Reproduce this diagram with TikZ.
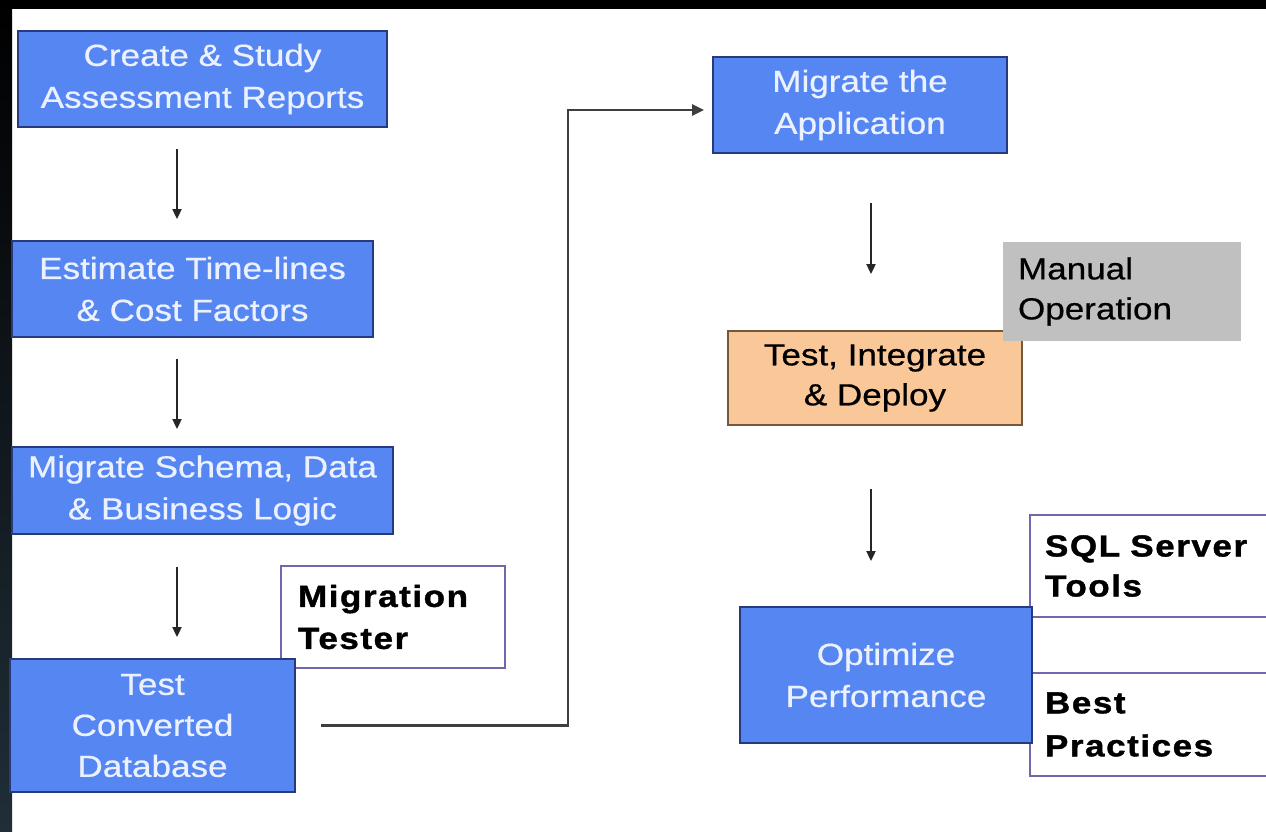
\documentclass[tikz,border=0pt]{standalone}
\usepackage{fontspec}
\setmainfont{Liberation Sans}[FakeStretch=1.15,FakeBold=0.6]
\newfontfamily\labfont{Liberation Sans Bold}[FakeStretch=1.15,LetterSpace=5,FakeBold=1.2]
\usetikzlibrary{arrows.meta,positioning}
\definecolor{boxblue}{RGB}{86,134,242}
\definecolor{boxedge}{RGB}{40,58,125}
\definecolor{boxtext}{RGB}{236,241,255}
\definecolor{peach}{RGB}{250,200,152}
\definecolor{peachedge}{RGB}{115,88,60}
\definecolor{graybox}{RGB}{192,192,192}
\definecolor{lilac}{RGB}{112,104,172}
\definecolor{connector}{RGB}{62,62,62}
\definecolor{bandbot}{RGB}{32,46,56}
\tikzset{
  bluebox/.style={draw=boxedge, line width=1.8pt, fill=boxblue, text=boxtext,
    inner sep=0pt, align=center, font=\fontsize{30.5}{42}\selectfont},
  peachbox/.style={draw=peachedge, line width=1.8pt, fill=peach, text=black,
    inner sep=0pt, align=center, font=\fontsize{30.5}{40}\selectfont},
  greybox/.style={fill=graybox, text=black, inner sep=0pt, align=left,
    font=\fontsize{30.5}{40}\selectfont},
  whitebox/.style={draw=lilac, line width=1.8pt, fill=white, text=black,
    inner sep=0pt, align=left, font=\labfont\fontsize{30.5}{42}\selectfont},
  arr/.style={draw=black!85, line width=1.8pt, -{Triangle[length=10pt,width=9pt]}},
  conn/.style={draw=connector, line width=2.6pt, -{Triangle[length=12pt,width=11pt]}}
}
\begin{document}
\begin{tikzpicture}[x=1pt,y=-1pt]
\useasboundingbox (0,0) rectangle (1266,831);
\fill[white] (0,0) rectangle (1266,831);
\shade[top color=black, bottom color=bandbot] (0,0) rectangle (12,831);
\fill[black] (0,0) rectangle (1266,9);

% left column
\node[bluebox, minimum width=369pt, minimum height=96pt] (b1) at (202.5,79) {Create \& Study\\Assessment Reports};
\node[bluebox, minimum width=361pt, minimum height=96pt] (b2) at (192.5,289) {Estimate Time-lines\\\& Cost Factors};
\node[bluebox, minimum width=381pt, minimum height=87pt] (b3) at (202.5,490.5) {Migrate Schema, Data\\\& Business Logic};
\node[whitebox, minimum width=224pt, minimum height=102pt, text width=190pt] (mt) at (393,617) {Migration\\Tester};
\node[bluebox, minimum width=285pt, minimum height=133pt, font=\fontsize{30.5}{41}\selectfont] (b4) at (152.5,725.5) {Test\\Converted\\Database};

% right column
\node[bluebox, minimum width=294pt, minimum height=96pt] (b5) at (860,105) {Migrate the\\Application};
\node[peachbox, minimum width=294pt, minimum height=94pt] (b6) at (875,378) {Test, Integrate\\\& Deploy};
\node[greybox, minimum width=238pt, minimum height=99pt, text width=208pt] (mo) at (1122,291.5) {Manual\\Operation};
\node[whitebox, minimum width=260pt, minimum height=102pt, text width=230pt, font=\labfont\fontsize{30.5}{40}\selectfont] (sq) at (1160,566) {SQL Server\\Tools};
\node[whitebox, minimum width=260pt, minimum height=103pt, text width=230pt, font=\labfont\fontsize{30.5}{43}\selectfont] (bp) at (1160,724.5) {Best\\Practices};
\node[bluebox, minimum width=292pt, minimum height=136pt] (b8) at (886,675) {Optimize\\Performance};

% arrows
\draw[arr] ([xshift=-25.5pt,yshift=-21pt]b1.south) -- ([xshift=-15.5pt,yshift=21pt]b2.north);
\draw[arr] ([xshift=-15.5pt,yshift=-21pt]b2.south) -- ([xshift=-25.5pt,yshift=17pt]b3.north);
\draw[arr] ([xshift=-25.5pt,yshift=-32pt]b3.south) -- ([xshift=24.5pt,yshift=21pt]b4.north);
\draw[arr] ([xshift=11pt,yshift=-49pt]b5.south) -- ([xshift=-4pt,yshift=56pt]b6.north);
\draw[arr] ([xshift=-4pt,yshift=-63pt]b6.south) -- ([xshift=-15pt,yshift=45pt]b8.north);

\coordinate (turn) at (568,110);
\draw[conn] ([xshift=25pt]b4.east) -| (turn) -- ([xshift=-8pt,yshift=-5pt]b5.west);
\end{tikzpicture}
\end{document}
